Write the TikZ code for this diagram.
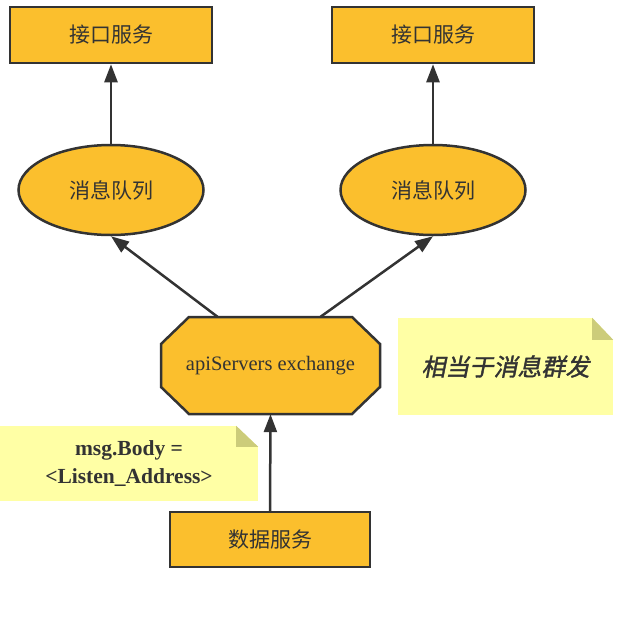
\documentclass[tikz,border=0pt]{standalone}
\usepackage{fontspec}
\setmainfont{Liberation Serif}
\newfontfamily\cjk{Noto Sans CJK SC}
\newfontfamily\cjknote{Noto Sans CJK SC}[FakeSlant=0.2,FakeBold=1.5]
\usetikzlibrary{arrows.meta,shapes.geometric}
\definecolor{boxfill}{RGB}{251,191,45}
\definecolor{edge}{RGB}{51,51,51}
\definecolor{notefill}{RGB}{255,255,165}
\definecolor{foldfill}{RGB}{204,204,122}

\begin{document}
\begin{tikzpicture}[x=1pt,y=-1pt]

\tikzstyle{svc}=[rectangle,draw=edge,line width=2.5pt,fill=boxfill,text=edge,minimum width=202pt,minimum height=56pt,inner sep=0pt,font=\cjk\fontsize{21}{25}\selectfont]
\tikzstyle{queue}=[ellipse,draw=edge,line width=2.5pt,fill=boxfill,text=edge,minimum width=185pt,minimum height=90pt,inner sep=0pt,font=\cjk\fontsize{21}{25}\selectfont]
\tikzstyle{note}=[rectangle,fill=notefill,text=edge,inner sep=0pt,align=center]
\tikzstyle{flow}=[draw=edge,line width=2.5pt,-{Triangle[length=18pt,width=13pt]}]

\useasboundingbox (0,0) rectangle (620,616);

% exchange outline
\filldraw[draw=edge,fill=boxfill,line width=2.5pt]
  (189,317) -- (352,317) -- (380,344) -- (380,387) -- (352,414)
  -- (189,414) -- (161,387) -- (161,344) -- cycle;

\node[svc]   (s1) at (111,35)  {接口服务} ;
\node[svc]   (s2) at (433,35)  {接口服务} ;
\node[queue] (q1) at (111,190) {消息队列} ;
\node[queue] (q2) at (433,190) {消息队列} ;
\node[minimum width=219pt,minimum height=97pt,inner sep=0pt,text=edge,font=\fontsize{20.5}{24}\selectfont]
             (ex) at (270.5,365.5) {\raisebox{-3pt}{apiServers exchange}} ;
\node[svc,minimum width=200pt,minimum height=55pt] (src) at (270,539.5) {数据服务} ;

% notes
\node[note,minimum width=215pt,minimum height=97pt,font=\cjknote\fontsize{24}{28}\selectfont]
             (n1) at (505.5,366.5) {相当于消息群发} ;
\fill[white] (n1.north east) -- ++(-21,0) -- ++(21,22) -- cycle;
\fill[foldfill] ([xshift=-21pt]n1.north east) -- ++(0,22) -- ++(21,0) -- cycle;
\node[note,minimum width=258pt,minimum height=75pt,font=\bfseries\fontsize{21.5}{28}\selectfont]
             (n2) at (129,463.5) {msg.Body =\\<Listen\_Address>} ;
\fill[white] (n2.north east) -- ++(-22,0) -- ++(22,21) -- cycle;
\fill[foldfill] ([xshift=-22pt]n2.north east) -- ++(0,21) -- ++(22,0) -- cycle;

\draw[flow] (q1.north) -- (s1.south);
\draw[flow] (q2.north) -- (s2.south);
\draw[flow] ([xshift=-53pt]ex.north) -- (q1.south);
\draw[flow] ([xshift=50pt]ex.north) -- (q2.south);
\draw[flow] (src.north) -- (ex.south);

\end{tikzpicture}
\end{document}
